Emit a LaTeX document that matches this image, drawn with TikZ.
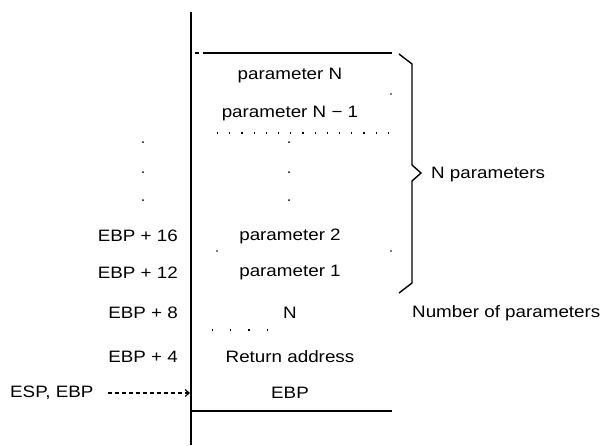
\documentclass[tikz,border=0pt]{standalone}
\usepackage{fontspec}
\setmainfont{Liberation Sans}[FakeStretch=1.14]
\usetikzlibrary{arrows.meta}
\begin{document}
\begin{tikzpicture}[x=1pt,y=-1pt,
  lbl/.style={font=\fontsize{16.5}{18}\selectfont, inner sep=0pt},
  cell/.style={lbl, anchor=center},
  offs/.style={lbl, anchor=east},
  rule/.style={line width=1.6pt},
  sep/.style={line width=1.2pt, dash pattern=on 1.2pt off 11pt},
  vdot/.style={circle, fill, inner sep=0pt, minimum size=2pt}]
\useasboundingbox (0,0) rectangle (612,445);
% stack axis and borders
\coordinate (axtop) at (191,12);
\coordinate (axbot) at (191,445);
\draw[rule] (axtop) -- (axbot);
\coordinate (tl) at (203,53);
\coordinate (tr) at (392,53);
\draw[rule] (tl) -- (tr);
\coordinate (tdl) at (195,53);
\coordinate (tdr) at (199,53);
\draw[rule] (tdl) -- (tdr);
\coordinate (bl) at (191,411);
\coordinate (br) at (392,411);
\draw[rule] (bl) -- (br);
% cells
\node[cell] (pN) at (290,76) {parameter N};
\node[cell] (pN1) at (290,114) {parameter N − 1};
\node[cell] (p2) at (290,236) {parameter 2};
\node[cell] (p1) at (290,273) {parameter 1};
\node[cell] (nn) at (290,313) {N};
\node[cell] (ret) at (290,357) {Return address};
\node[cell] (ebp) at (290,393) {EBP};
% separators
\coordinate (s1a) at (217,133);
\coordinate (s1b) at (392,133);
\draw[sep] (s1a) -- (s1b);
\coordinate (s2a) at (212,330);
\coordinate (s2b) at (280,330);
\draw[sep, dash pattern=on 1.2pt off 17pt] (s2a) -- (s2b);
\node[vdot, minimum size=1.6pt] (d1) at (391,94) {};
\node[vdot, minimum size=1.6pt] (d2) at (217,251) {};
\node[vdot, minimum size=1.6pt] (d3) at (391,251) {};
% vertical ellipses
\node[vdot] (e1) at (289,142) {};
\node[vdot] (e2) at (289,172) {};
\node[vdot] (e3) at (289,200) {};
\node[vdot] (f1) at (143,142) {};
\node[vdot] (f2) at (143,172) {};
\node[vdot] (f3) at (143,200) {};
% offsets
\node[offs] (o16) at (178,236) {EBP + 16};
\node[offs] (o12) at (178,273) {EBP + 12};
\node[offs] (o8) at (178,313) {EBP + 8};
\node[offs] (o4) at (178,357) {EBP + 4};
\node[lbl, anchor=west] (esp) at (10,393) {ESP, EBP};
\coordinate (espend) at (190,393);
\draw[line width=1.2pt, dash pattern=on 4pt off 3pt, -{Straight Barb[length=4pt,width=7pt]}] ([xshift=14pt]esp.east) -- (espend);
% brace
\coordinate (b0) at (399,54);
\coordinate (b1) at (412,64);
\coordinate (b2) at (412,165);
\coordinate (bt) at (421,173);
\coordinate (b3) at (412,181);
\coordinate (b4) at (412,283);
\coordinate (b5) at (399,293);
\draw[line width=1.4pt, line join=miter] (b0) -- (b1) -- (b2) -- (bt) -- (b3) -- (b4) -- (b5);
\node[lbl, anchor=west] (npar) at (431,175) {N parameters};
\node[lbl, anchor=west] (nopar) at (412,313) {Number of parameters};
\end{tikzpicture}
\end{document}
